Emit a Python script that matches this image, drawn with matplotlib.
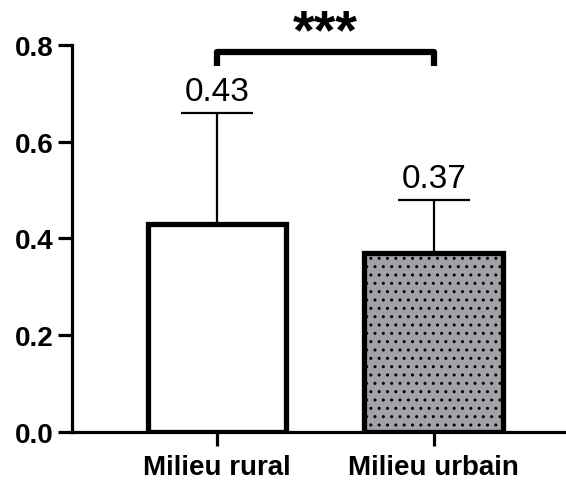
import numpy as np
import matplotlib
matplotlib.use("Agg")
import matplotlib.pyplot as plt

plt.rcParams['font.family'] = ['Liberation Sans', 'DejaVu Sans']
plt.rcParams['hatch.linewidth'] = 1.0

# data
categories = ['Milieu rural', 'Milieu urbain']
means = [0.43, 0.37]
errors = [0.23, 0.11]   # upper SD
labels = ['0.43', '0.37']
yticks = [0.0, 0.2, 0.4, 0.6, 0.8]

fig = plt.figure(figsize=(5.66, 4.81), dpi=100)
ax = fig.add_axes([0.127, 0.0998, 0.873, 0.8046])

x = np.arange(len(categories))
fills = ['white', '#a3a2ab']
hatches = [None, '..']
for xi, m, e, fc, h in zip(x, means, errors, fills, hatches):
    ax.bar(xi, m, width=0.64, color=fc, edgecolor='black', linewidth=3.8,
           hatch=h, zorder=2)
    ax.errorbar(xi, m, yerr=[[0], [e]], fmt='none', ecolor='black',
                elinewidth=1.6, capsize=26, capthick=1.6, zorder=1)

for xi, m, e, lab in zip(x, means, errors, labels):
    ax.text(xi, m + e + 0.012, lab, ha='center', va='bottom', fontsize=24)

# significance bracket
yb = 0.785
ax.plot([0, 0, 1, 1], [yb - 0.028, yb, yb, yb - 0.028], color='black',
        linewidth=4.5, clip_on=False, solid_capstyle='butt')
ax.text(0.5, 0.795, '***', ha='center', va='baseline', fontsize=40,
        fontweight='bold')

ax.set_xlim(-0.67, 1.61)
ax.set_ylim(0, 0.8)
ax.set_yticks(yticks)
ax.set_yticklabels([f'{t:.1f}' for t in yticks], fontsize=20, fontweight='bold')
ax.set_xticks(x)
ax.set_xticklabels(categories, fontsize=20, fontweight='bold')
for s in ['top', 'right']:
    ax.spines[s].set_visible(False)
for s in ['left', 'bottom']:
    ax.spines[s].set_linewidth(2.3)
ax.tick_params(width=2.3, length=10, pad=3)
ax.tick_params(axis='x', pad=6)

fig.savefig('out.png', dpi=100)
